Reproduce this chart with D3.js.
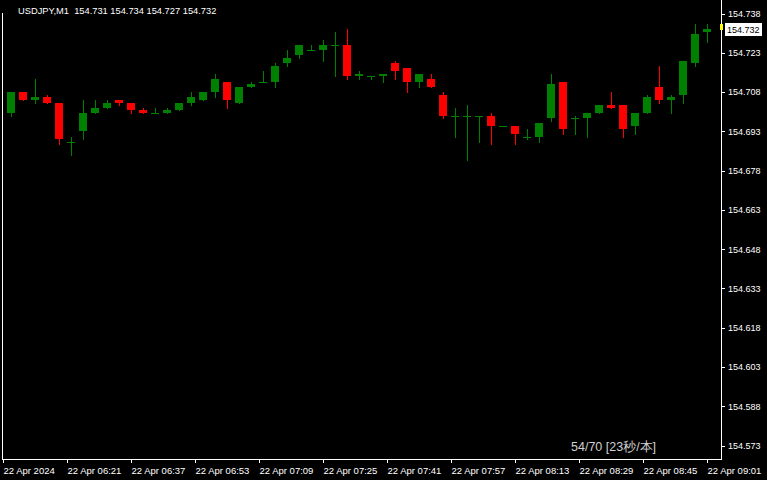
<!DOCTYPE html>
<html>
<head>
<meta charset="utf-8">
<script src="https://cdn.jsdelivr.net/npm/d3@7"></script>
<style>
  html, body { margin: 0; padding: 0; background: #000; }
  svg { display: block; }
  text { font-family: "Liberation Sans", Arial, sans-serif; }
</style>
</head>
<body>
<svg id="chart" width="767" height="480"></svg>
<script>
// ---- data (USDJPY, M1) ----
const opens  = [154.700,154.708,154.705,154.706,154.704,154.689,154.693,154.700,154.702,154.705,
                154.704,154.701,154.700,154.700,154.701,154.704,154.705,154.708,154.712,154.704,
                154.710,154.712,154.712,154.719,154.722,154.724,154.724,154.726,154.726,154.714,
                154.714,154.714,154.719,154.717,154.712,154.713,154.707,154.699,154.699,154.699,
                154.699,154.695,154.695,154.691,154.691,154.698,154.712,154.698,154.698,154.700,
                154.703,154.703,154.695,154.700,154.710,154.705,154.707,154.719,154.731];
const highs  = [154.708,154.708,154.713,154.707,154.704,154.691,154.705,154.705,154.705,154.705,
                154.704,154.702,154.702,154.702,154.704,154.708,154.708,154.715,154.712,154.710,
                154.712,154.716,154.719,154.724,154.726,154.726,154.728,154.731,154.732,154.716,
                154.714,154.715,154.720,154.717,154.715,154.715,154.708,154.702,154.703,154.699,
                154.700,154.695,154.695,154.694,154.696,154.715,154.712,154.699,154.700,154.703,
                154.708,154.703,154.700,154.707,154.718,154.707,154.720,154.734,154.734];
const lows   = [154.699,154.705,154.704,154.704,154.688,154.684,154.690,154.700,154.702,154.703,
                154.700,154.700,154.700,154.700,154.701,154.703,154.705,154.706,154.702,154.704,
                154.710,154.712,154.710,154.718,154.721,154.724,154.720,154.714,154.713,154.713,
                154.713,154.712,154.713,154.708,154.710,154.710,154.698,154.691,154.682,154.689,
                154.688,154.695,154.688,154.690,154.689,154.697,154.692,154.692,154.691,154.700,
                154.702,154.691,154.692,154.700,154.704,154.700,154.704,154.718,154.727];
const closes = [154.708,154.705,154.706,154.704,154.690,154.689,154.700,154.702,154.704,154.704,
                154.701,154.700,154.700,154.701,154.704,154.706,154.708,154.713,154.705,154.710,
                154.711,154.712,154.718,154.721,154.726,154.724,154.726,154.726,154.714,154.715,
                154.714,154.715,154.716,154.712,154.715,154.710,154.699,154.699,154.699,154.699,
                154.695,154.695,154.692,154.691,154.696,154.711,154.694,154.698,154.700,154.703,
                154.702,154.694,154.700,154.706,154.705,154.706,154.720,154.730,154.732];

const priceTicks = [154.738,154.723,154.708,154.693,154.678,154.663,154.648,154.633,154.618,154.603,154.588,154.573];
const timeTickStrings = ["2024-04-22T06:05","2024-04-22T06:21","2024-04-22T06:37","2024-04-22T06:53",
                         "2024-04-22T07:09","2024-04-22T07:25","2024-04-22T07:41","2024-04-22T07:57",
                         "2024-04-22T08:13","2024-04-22T08:29","2024-04-22T08:45","2024-04-22T09:01"];
const timeTickLabels = ["22 Apr 2024","22 Apr 06:21","22 Apr 06:37","22 Apr 06:53","22 Apr 07:09","22 Apr 07:25",
                        "22 Apr 07:41","22 Apr 07:57","22 Apr 08:13","22 Apr 08:29","22 Apr 08:45","22 Apr 09:01"];
const symbol = "USDJPY,M1";
const askPrice = 154.733;
const statusText = "54/70 [23秒/本]";

// ---- build ----
const candles = opens.map((o, i) => ({ i, o, h: highs[i], l: lows[i], c: closes[i] }));
const times = timeTickStrings.map(s => new Date(s));

const svg = d3.select("#chart");
const W = 767, H = 480;
const plotL = 2, plotR = 721, plotB = 459;

svg.append("rect").attr("width", W).attr("height", H).attr("fill", "#000");

const x = d3.scaleLinear().domain([0, candles.length - 1]).range([11, 707]);
const y = d3.scaleLinear().domain([154.573, 154.738]).range([445.5, 13.5]);
const xt = d3.scaleTime().domain([times[0], times[times.length - 1]]).range([3, 707]);

const GREEN = "#008000", RED = "#ff0000";
const col = d => d.c >= d.o ? GREEN : RED;

const g = svg.append("g").attr("shape-rendering", "crispEdges");
// wicks
g.selectAll("rect.wick").data(candles).join("rect")
  .attr("class", "wick")
  .attr("x", d => Math.round(x(d.i)))
  .attr("width", 1)
  .attr("y", d => Math.round(y(d.h)))
  .attr("height", d => Math.max(1, Math.round(y(d.l)) - Math.round(y(d.h)) + 1))
  .attr("fill", col);
// bodies
g.selectAll("rect.body").data(candles).join("rect")
  .attr("class", "body")
  .attr("x", d => Math.round(x(d.i)) - 4)
  .attr("width", 8)
  .attr("y", d => Math.round(y(Math.max(d.o, d.c))))
  .attr("height", d => Math.max(1, Math.round(y(Math.min(d.o, d.c))) - Math.round(y(Math.max(d.o, d.c)))))
  .attr("fill", col);

// frame
const frame = svg.append("g").attr("shape-rendering", "crispEdges").attr("stroke", "#fff").attr("stroke-width", 1);
frame.append("line").attr("x1", plotL + 0.5).attr("x2", plotL + 0.5).attr("y1", 13).attr("y2", plotB + 0.5);
frame.append("line").attr("x1", plotL).attr("x2", plotR + 1).attr("y1", plotB + 0.5).attr("y2", plotB + 0.5);
frame.append("line").attr("x1", plotR + 0.5).attr("x2", plotR + 0.5).attr("y1", 0).attr("y2", plotB + 0.5);

// price axis
const yAxis = d3.axisRight(y).tickValues(priceTicks).tickSize(3).tickPadding(3).tickFormat(d3.format(".3f"));
const ya = svg.append("g").attr("transform", `translate(${plotR + 1},0)`).call(yAxis);
ya.select(".domain").remove();
ya.selectAll("line").attr("stroke", "#fff").attr("shape-rendering", "crispEdges");
ya.selectAll("text").attr("fill", "#fff").attr("font-size", 9).attr("font-family", "Liberation Sans, Arial, sans-serif");

// time axis
const xAxis = d3.axisBottom(xt).tickValues(times).tickSize(3).tickPadding(4)
  .tickFormat((d, i) => timeTickLabels[i]);
const xa = svg.append("g").attr("transform", `translate(0,${plotB + 1})`).call(xAxis);
xa.select(".domain").remove();
xa.selectAll("line").attr("stroke", "#fff").attr("shape-rendering", "crispEdges");
xa.selectAll("text").attr("fill", "#fff").attr("font-size", 9.5).attr("text-anchor", "start")
  .attr("font-family", "Liberation Sans, Arial, sans-serif");

// current price label
const last = candles[candles.length - 1];
const yc = y(last.c);
svg.append("rect").attr("x", plotR + 4).attr("y", Math.round(yc) - 6).attr("width", 37).attr("height", 13)
  .attr("fill", "#fff").attr("shape-rendering", "crispEdges");
svg.append("text").attr("x", plotR + 6).attr("y", Math.round(yc) + 4).attr("font-size", 9)
  .attr("fill", "#000").text(d3.format(".3f")(last.c));
// ask marker
svg.append("rect").attr("x", plotR - 1).attr("y", Math.round(y(askPrice)) - 3).attr("width", 3).attr("height", 6)
  .attr("fill", "#ffff00").attr("shape-rendering", "crispEdges");

// header
svg.append("text").attr("x", 18).attr("y", 14).attr("font-size", 9.3).attr("fill", "#fff")
  .attr("xml:space", "preserve").style("white-space", "pre")
  .text(`${symbol}  ${d3.format(".3f")(last.o)} ${d3.format(".3f")(last.h)} ${d3.format(".3f")(last.l)} ${d3.format(".3f")(last.c)}`);

// status text
svg.append("text").attr("x", 571).attr("y", 451).attr("font-size", 12.5).attr("fill", "#d0d0d0")
  .attr("font-family", "'Noto Sans CJK JP', 'Noto Sans', sans-serif").text(statusText);
</script>
</body>
</html>
